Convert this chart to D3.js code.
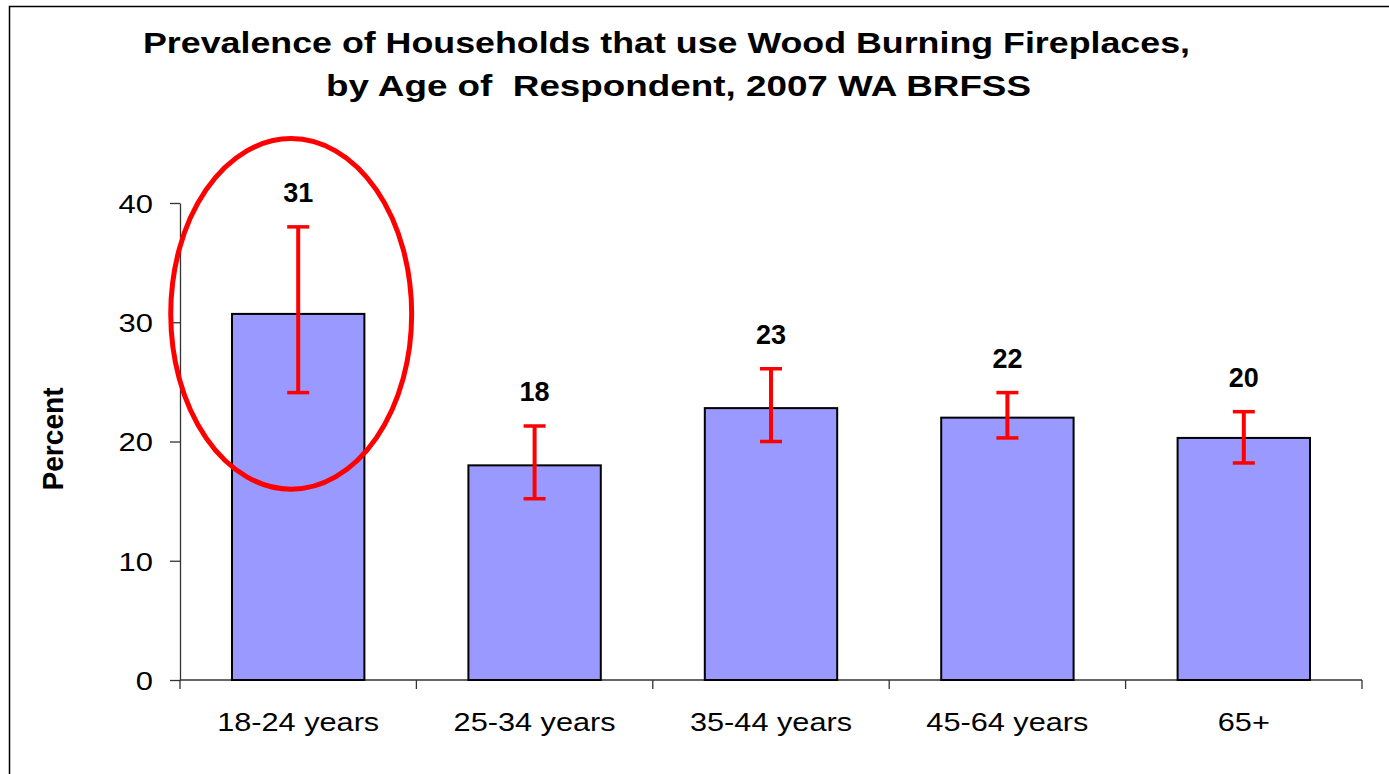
<!DOCTYPE html>
<html>
<head>
<meta charset="utf-8">
<script src="https://cdn.jsdelivr.net/npm/d3@7"></script>
<style>
    body { margin: 0; background: #fff; }
    svg { display: block; font-family: 'Liberation Sans', Arial, sans-serif; }
    .title { font-weight: bold; font-size: 29px; white-space: pre; }
    .axis text { font-size: 26px; fill: #000; }
    .axis path, .axis line { stroke: #333; stroke-width: 1.3; }
</style>
</head>
<body>
<div class="chart"></div>
<script>
// Data
const categories = ['18-24 years', '25-34 years', '35-44 years', '45-64 years', '65+'];
const percent = [30.7, 18.0, 22.8, 22.0, 20.3];
const ciLower = [24.1, 15.2, 20.0, 20.3, 18.2];
const ciUpper = [38.0, 21.3, 26.1, 24.1, 22.5];
const yTicks = [0, 10, 20, 30, 40];
const titleLines = ['Prevalence of Households that use Wood Burning Fireplaces,', 'by Age of  Respondent, 2007 WA BRFSS'];
const highlighted = '18-24 years';

let width = 1389,
    height = 774,
    svg = d3.select('.chart')
        .append('svg')
        .attr('width', width)
        .attr('height', height);

// Text in the original is stretched sideways
function stretch(sel, sx) {
    sel.each(function () {
        let w = this.getComputedTextLength();
        d3.select(this).attr('textLength', w * sx).attr('lengthAdjust', 'spacingAndGlyphs');
    });
}

// Outer frame
svg.append('rect')
    .attr('x', 9.5).attr('y', 6.5)
    .attr('width', width).attr('height', height)
    .attr('fill', 'none')
    .attr('stroke', '#000')
    .attr('stroke-width', 1.5);

// Title
let titleX = [143, 326], titleW = [1047, 705], titleY = [53, 96];
svg.selectAll('.title')
    .data(titleLines)
    .enter().append('text')
    .attr('class', 'title')
    .attr('x', (d, i) => titleX[i])
    .attr('y', (d, i) => titleY[i])
    .attr('textLength', (d, i) => titleW[i])
    .attr('lengthAdjust', 'spacingAndGlyphs')
    .text(d => d);

// Scales
let x = d3.scaleBand()
    .domain(categories)
    .range([180, 1362])
    .paddingInner(0.44)
    .paddingOuter(0.22);

let xEdges = d3.scaleBand()
    .domain(categories)
    .range([180, 1362]);

let y = d3.scaleLinear()
    .domain([0, 40])
    .range([680, 203]);

// Y axis
let yAxis = svg.append('g')
    .attr('class', 'axis')
    .attr('transform', 'translate(180,0)')
    .call(d3.axisLeft(y).tickValues(yTicks).tickSize(10).tickSizeOuter(0).tickPadding(17));
yAxis.selectAll('text').attr('dy', '0.36em').call(stretch, 1.19);

// X axis: line, ticks at the category edges, labels under the bars
let xAxis = svg.append('g').attr('class', 'axis');
xAxis.append('line')
    .attr('x1', 180).attr('x2', 1362)
    .attr('y1', y(0)).attr('y2', y(0));
xAxis.selectAll('.edge')
    .data(categories.map(c => xEdges(c)).concat([xEdges.range()[1]]))
    .enter().append('line')
    .attr('x1', d => d).attr('x2', d => d)
    .attr('y1', y(0)).attr('y2', y(0) + 9);
xAxis.selectAll('.cat')
    .data(categories)
    .enter().append('text')
    .attr('x', d => x(d) + x.bandwidth() / 2)
    .attr('y', 731)
    .attr('text-anchor', 'middle')
    .text(d => d)
    .call(stretch, 1.18);

// Y axis title
svg.append('text')
    .attr('transform', 'translate(63,439) rotate(-90)')
    .attr('text-anchor', 'middle')
    .attr('font-weight', 'bold')
    .attr('font-size', 29)
    .attr('textLength', 103)
    .attr('lengthAdjust', 'spacingAndGlyphs')
    .text('Percent');

// Bars
svg.append('g')
    .selectAll('rect')
    .data(categories)
    .enter().append('rect')
    .attr('x', d => x(d))
    .attr('y', (d, i) => y(percent[i]))
    .attr('width', x.bandwidth())
    .attr('height', (d, i) => y(0) - y(percent[i]))
    .attr('fill', '#9999FF')
    .attr('stroke', '#000')
    .attr('stroke-width', 2);

// Error bars
let cap = 11,
    errors = svg.append('g')
        .attr('stroke', '#FF0000')
        .selectAll('g')
        .data(categories)
        .enter().append('g');
errors.append('line')
    .attr('x1', d => x(d) + x.bandwidth() / 2)
    .attr('x2', d => x(d) + x.bandwidth() / 2)
    .attr('y1', (d, i) => y(ciLower[i]))
    .attr('y2', (d, i) => y(ciUpper[i]))
    .attr('stroke-width', 4);
[ciLower, ciUpper].forEach(bound => {
    errors.append('line')
        .attr('x1', d => x(d) + x.bandwidth() / 2 - cap)
        .attr('x2', d => x(d) + x.bandwidth() / 2 + cap)
        .attr('y1', (d, i) => y(bound[i]))
        .attr('y2', (d, i) => y(bound[i]))
        .attr('stroke-width', 3.5);
});

// Value labels
svg.append('g')
    .selectAll('text')
    .data(categories)
    .enter().append('text')
    .attr('x', d => x(d) + x.bandwidth() / 2)
    .attr('y', (d, i) => y(ciUpper[i]) - 25)
    .attr('text-anchor', 'middle')
    .attr('font-weight', 'bold')
    .attr('font-size', 27)
    .text((d, i) => d3.format('.0f')(percent[i]));

// Red ellipse around the highlighted bar
let hi = categories.indexOf(highlighted);
svg.append('ellipse')
    .attr('cx', x(highlighted) + x.bandwidth() / 2 - 7)
    .attr('cy', y(percent[hi]))
    .attr('rx', x.bandwidth() * 0.91)
    .attr('ry', y(0) - y(14.7))
    .attr('fill', 'none')
    .attr('stroke', '#FF0000')
    .attr('stroke-width', 5);
</script>
</body>
</html>
